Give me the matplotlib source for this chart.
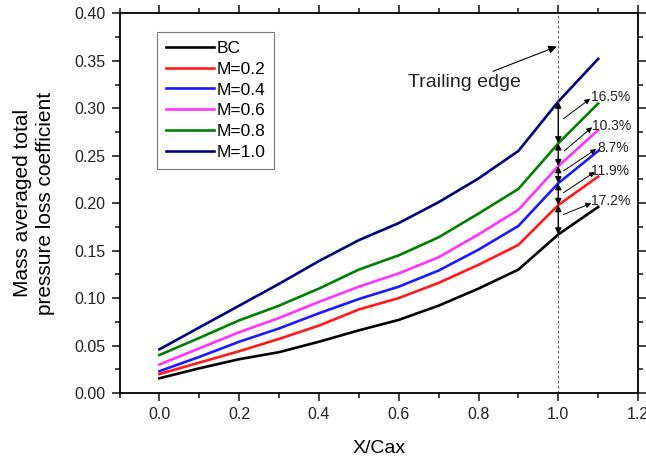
import matplotlib
matplotlib.use("Agg")
import matplotlib.pyplot as plt
from matplotlib.ticker import MultipleLocator

plt.rcParams['font.family'] = ['Liberation Sans', 'DejaVu Sans']

x = [0.0, 0.1, 0.2, 0.3, 0.4, 0.5, 0.6, 0.7, 0.8, 0.9, 1.0, 1.1]
bc   = [0.0155, 0.026, 0.0356, 0.043, 0.054, 0.066, 0.077, 0.092, 0.110, 0.130, 0.167, 0.196]
m02  = [0.020, 0.032, 0.044, 0.057, 0.071, 0.088, 0.100, 0.116, 0.135, 0.156, 0.198, 0.228]
m04  = [0.023, 0.038, 0.054, 0.068, 0.084, 0.099, 0.112, 0.129, 0.151, 0.176, 0.221, 0.255]
m06  = [0.030, 0.047, 0.064, 0.079, 0.096, 0.112, 0.126, 0.143, 0.167, 0.193, 0.239, 0.277]
m08  = [0.040, 0.058, 0.0765, 0.092, 0.110, 0.130, 0.145, 0.164, 0.189, 0.215, 0.263, 0.305]
m10  = [0.046, 0.069, 0.092, 0.115, 0.139, 0.161, 0.179, 0.201, 0.226, 0.255, 0.307, 0.352]

labels = ['BC', 'M=0.2', 'M=0.4', 'M=0.6', 'M=0.8', 'M=1.0']
colors = ['#000000', '#ff1a1a', '#1a1aff', '#ff33ff', '#008000', '#000080']
series = [bc, m02, m04, m06, m08, m10]

pct_labels = ['17.2%', '11.9%', '8.7%', '10.3%', '16.5%']
pct_label_pos = [(1.083, 0.2025), (1.083, 0.234), (1.097, 0.258), (1.085, 0.281), (1.083, 0.312)]
pct_arrow_tail = [(1.013, 0.188), (1.013, 0.211), (1.013, 0.234), (1.015, 0.255), (1.013, 0.289)]
pct_arrow_head = [(1.083, 0.200), (1.092, 0.233), (1.095, 0.257), (1.085, 0.280), (1.080, 0.310)]

fig = plt.figure(figsize=(6.46, 4.59), dpi=100)
ax = fig.add_axes([0.185, 0.1438, 0.8027, 0.8272])

for s, c, l in zip(series, colors, labels):
    ax.plot(x, s, color=c, lw=1.9, label=l)

ax.set_xlim(-0.1, 1.2)
ax.set_ylim(0.0, 0.40)
ax.xaxis.set_minor_locator(MultipleLocator(0.1))
ax.yaxis.set_minor_locator(MultipleLocator(0.025))
ax.set_xticks([0.0, 0.2, 0.4, 0.6, 0.8, 1.0, 1.2])
ax.set_xticklabels(['0.0', '0.2', '0.4', '0.6', '0.8', '1.0', '1.2'])
ax.set_yticks([0.0, 0.05, 0.10, 0.15, 0.20, 0.25, 0.30, 0.35, 0.40])
ax.set_yticklabels(['0.00', '0.05', '0.10', '0.15', '0.20', '0.25', '0.30', '0.35', '0.40'])
ax.tick_params(which='both', direction='out', top=True, right=True, labeltop=False, labelright=False,
               width=1.2, labelsize=11.5, colors='#222222')
ax.tick_params(which='major', length=6, pad=4)
ax.tick_params(which='minor', length=3.5)
for sp in ax.spines.values():
    sp.set_linewidth(1.3)

ax.set_xlabel('X/Cax', fontsize=14, labelpad=13)
ax.set_ylabel('Mass averaged total\npressure loss coefficient', fontsize=15, labelpad=14, linespacing=1.25)

# Trailing edge dashed line
ax.axvline(1.0, color='#666666', lw=0.8, ls=(0, (2.5, 2)))

# Double-headed arrows between lines at x = 1.0
at_te = [s[x.index(1.0)] for s in series]
for lo, hi in zip(at_te[:-1], at_te[1:]):
    ax.annotate('', xy=(1.0, hi), xytext=(1.0, lo),
                arrowprops=dict(arrowstyle='<|-|>', color='black', lw=1.0,
                                mutation_scale=9, shrinkA=0, shrinkB=0))

for lab, pos, tail, head in zip(pct_labels, pct_label_pos, pct_arrow_tail, pct_arrow_head):
    ax.annotate('', xy=head, xytext=tail,
                arrowprops=dict(arrowstyle='-|>', color='black', lw=0.7,
                                mutation_scale=8, shrinkA=0, shrinkB=0))
    ax.text(pos[0], pos[1], lab, fontsize=10, va='center', ha='left', color='#222222')

ax.annotate('Trailing edge', xy=(0.996, 0.365), xytext=(0.905, 0.327),
            fontsize=14, ha='right', va='center', color='#222222',
            arrowprops=dict(arrowstyle='-|>', color='black', lw=0.8,
                            mutation_scale=12, shrinkA=0, shrinkB=0))

leg = ax.legend(loc='upper left', bbox_to_anchor=(0.072, 0.951), fontsize=12.5,
                handlelength=2.8, handletextpad=0.15, labelspacing=0.33,
                borderpad=0.5, borderaxespad=0.0, fancybox=False, frameon=True)
leg.get_frame().set_edgecolor('#555555')
leg.get_frame().set_linewidth(0.8)

fig.savefig('out.png', dpi=100)
